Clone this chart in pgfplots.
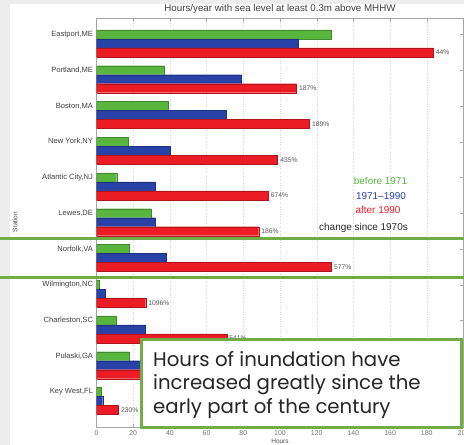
\documentclass[border=0pt]{standalone}
\usepackage{pgfplots}
\pgfplotsset{compat=1.18}
\usepackage{pgfplotstable}
\usepackage{fontspec}
\setmainfont{Liberation Sans}
\newfontfamily\boxfont{Poppins}
\definecolor{bgreen}{RGB}{88,182,62}
\definecolor{bblue}{RGB}{40,66,168}
\definecolor{bred}{RGB}{236,28,36}
\definecolor{slidegreen}{RGB}{112,173,71}

\pgfplotstableread{
y before mid after label
11 128 110 183.5 44
10 37 79 109 187
9 39 70.5 116 189
8 17.3 40 98.7 435
7 11 32 93.6 674
6 30 32 88.4 186
5 18 38 128 577
4 1.6 4.6 26.8 1096
3 10.5 26.6 71 541
2 17.7 45 85 380
1 2.8 3.4 12 230
}\data

\begin{document}
\begin{tikzpicture}
\fill[black!7] (0,0) rectangle (464bp,-445bp);
\fill[white] (10bp,-4bp) rectangle (464bp,-445bp);
\begin{axis}[
  at={(96.5bp,-427bp)}, anchor=south west,
  scale only axis, width=367bp, height=409bp,
  xbar, bar width=9bp,
  xmin=0, xmax=200, ymin=0.02, ymax=11.46,
  xtick={0,20,...,200},
  ytick={1,...,11},
  yticklabels={{Key West,FL},{Pulaski,GA},{Charleston,SC},{Wilmington,NC},{Norfolk,VA},{Lewes,DE},{Atlantic City,NJ},{New York,NY},{Boston,MA},{Portland,ME},{Eastport,ME}},
  tick align=inside, major tick length=3.5bp,
  tick style={gray!70, line width=0.4pt},
  axis line style={gray!70, line width=0.5pt},
  xmajorgrids, grid style={dotted, gray!30},
  /pgf/number format/assume math mode=true,
  xticklabel style={font=\fontsize{7}{8}\selectfont, text=gray!90!black},
  yticklabel style={font=\fontsize{7.6}{8}\selectfont, text=black!75},
]
\addplot[fill=bgreen, draw=bgreen!75!black, line width=0.3pt, bar shift=0bp] table[x=before,y=y]{\data};
\addplot[fill=bblue, draw=bblue!75!black, line width=0.3pt, bar shift=-9bp] table[x=mid,y=y]{\data};
\addplot[fill=bred, draw=bred!75!black, line width=0.3pt, bar shift=-18bp,
  point meta=explicit symbolic, nodes near coords={\pgfplotspointmeta\%},
  nodes near coords align=horizontal,
  every node near coord/.append style={anchor=west, font=\fontsize{6.8}{7}\selectfont, text=black!65, inner sep=2.5bp}] table[x=after,y=y,meta=label]{\data};
\end{axis}
\node[font=\fontsize{9.8}{11}\selectfont, text=black!75] at (280bp,-9bp) {Hours/year with sea level at least 0.3m above MHHW};
\node[font=\fontsize{6.5}{7}\selectfont, text=black!70] at (280bp,-441bp) {Hours};
\node[font=\fontsize{6.5}{7}\selectfont, text=black!70, rotate=90] at (15bp,-222bp) {Station};
\node[font=\fontsize{10}{11}\selectfont, text=bgreen] at (380.5bp,-181bp) {before 1971};
\node[font=\fontsize{10}{11}\selectfont, text=bblue] at (381bp,-196bp) {1971--1990};
\node[font=\fontsize{10}{11}\selectfont, text=bred] at (378bp,-210bp) {after 1990};
\node[font=\fontsize{10}{11}\selectfont, text=black!85] at (363.5bp,-228bp) {change since 1970s};
\draw[slidegreen, line width=3bp] (0,-238.5bp) -- (464bp,-238.5bp);
\draw[slidegreen, line width=3bp] (0,-277.5bp) -- (464bp,-277.5bp);
\draw[slidegreen, line width=3bp, fill=white] (141bp,-339.5bp) rectangle (461.5bp,-427bp);
\begin{scope}[every node/.style={anchor=base west, inner sep=0pt, font=\boxfont\fontsize{19.8}{23}\selectfont, text=black!85}]
\node at (153bp,-366.5bp) {Hours of inundation have};
\node at (153bp,-389.8bp) {increased greatly since the};
\node at (153bp,-413.1bp) {early part of the century};
\end{scope}
\pgfresetboundingbox
\path[use as bounding box] (0,0) rectangle (464bp,-445bp);
\end{tikzpicture}
\end{document}
